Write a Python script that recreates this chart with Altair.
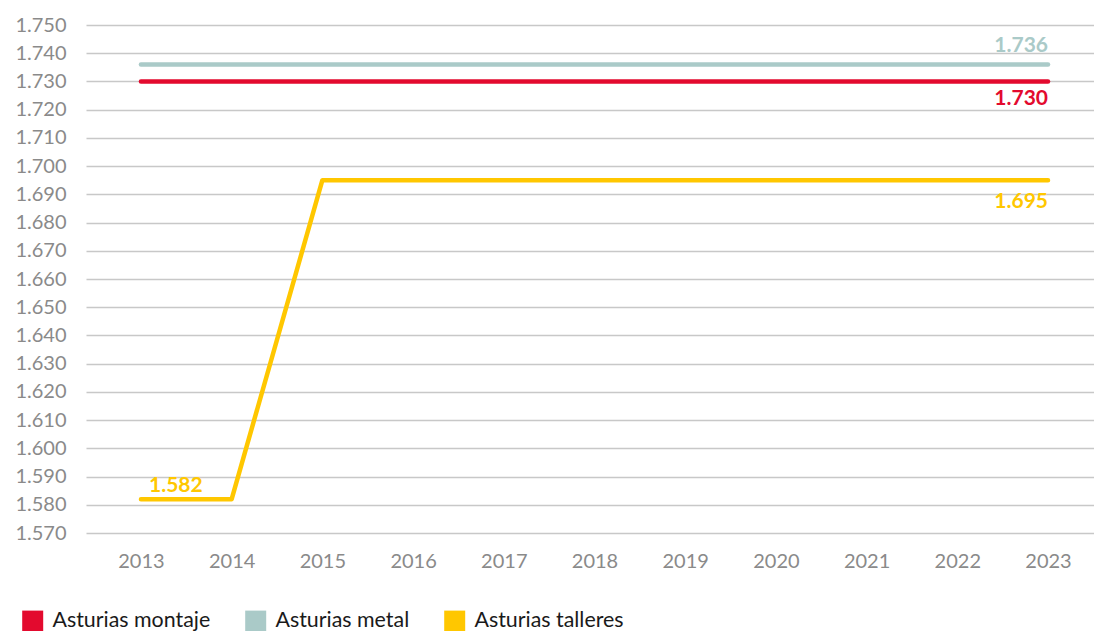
import altair as alt
import pandas as pd

years = list(range(2013, 2024))
montaje = [1730] * 11
metal = [1736] * 11
talleres = [1582, 1582, 1695, 1695, 1695, 1695, 1695, 1695, 1695, 1695, 1695]
series_names = ["Asturias montaje", "Asturias metal", "Asturias talleres"]
series_colors = ["#E30A2E", "#AACAC8", "#FFC700"]
y_ticks = list(range(1570, 1751, 10))

rows = []
for name, vals in zip(series_names, [montaje, metal, talleres]):
    for y, v in zip(years, vals):
        rows.append({"year": y, "value": v, "series": name})
df = pd.DataFrame(rows)

# value labels
lab_series = ["Asturias metal", "Asturias montaje", "Asturias talleres", "Asturias talleres"]
lab_year = [2023, 2023, 2023, 2013]
lab_value = [1736, 1730, 1695, 1582]
lab_text = ["1.736", "1.730", "1.695", "1.582"]
lab_dy = [-13, 24, 28, -7]
lab_align = ["right", "right", "right", "left"]
lab_dx = [0, 0, 0, 8]
labels = pd.DataFrame({"series": lab_series, "year": lab_year, "value": lab_value,
                       "text": lab_text, "dy": lab_dy, "align": lab_align, "dx": lab_dx})

FONT = "Lato"
color_scale = alt.Scale(domain=series_names, range=series_colors)
x_scale = alt.Scale(domain=[2012.394, 2023.507], nice=False, zero=False)
y_scale = alt.Scale(domain=[1570, 1750], nice=False, zero=False)

x_axis = alt.Axis(values=years, format="d", title=None, grid=False, domain=False,
                  ticks=False, labelPadding=18, labelFontSize=20, labelFont=FONT,
                  labelColor="#8A8A8A", labelOverlap=False)
y_axis = alt.Axis(values=y_ticks, title=None, grid=True, gridColor="#C8C8C8",
                  gridWidth=1.5, domain=False, ticks=False, labelPadding=20,
                  labelFontSize=20, labelFont=FONT, labelColor="#8A8A8A",
                  labelOverlap=False,
                  labelExpr="replace(format(datum.value, ',d'), ',', '.')")

x_enc = alt.X("year:Q", scale=x_scale, axis=x_axis)
y_enc = alt.Y("value:Q", scale=y_scale, axis=y_axis)

lines = alt.Chart(df).mark_line(strokeWidth=4.5, strokeCap="round", strokeJoin="round").encode(
    x=x_enc,
    y=y_enc,
    color=alt.Color("series:N", scale=color_scale, sort=series_names,
                    legend=alt.Legend(title=None, orient="none", direction="horizontal",
                                      legendX=-64, legendY=585, symbolType="square",
                                      symbolSize=441, symbolStrokeWidth=0, labelFontSize=21.4,
                                      labelFont=FONT, labelColor="#1A1A1A", labelOffset=9,
                                      columnPadding=34, labelLimit=400)),
    detail="series:N",
)

texts = []
for i in range(len(labels)):
    sub = labels.iloc[[i]]
    t = alt.Chart(sub).mark_text(fontSize=21, font=FONT, fontWeight="bold",
                                 align=lab_align[i], dy=lab_dy[i], dx=lab_dx[i],
                                 baseline="alphabetic").encode(
        x=x_enc,
        y=y_enc,
        text="text:N",
        color=alt.Color("series:N", scale=color_scale, legend=None),
    )
    texts.append(t)

chart = alt.layer(lines, *texts).properties(
    width=1008, height=508,
    background="white",
    autosize=alt.AutoSizeParams(type="none"),
    padding={"left": 86, "top": 25, "right": 0, "bottom": 98},
).configure_view(stroke=None, strokeWidth=0)

chart.save("out.html", embed_options={"renderer": "svg", "actions": False})
